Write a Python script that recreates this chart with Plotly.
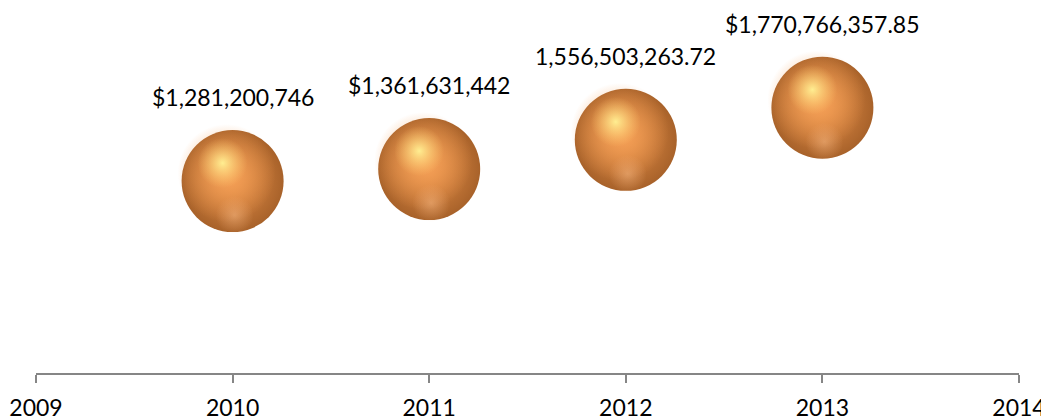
import plotly.graph_objects as go

years = [2010, 2011, 2012, 2013]
revenue = [1281200746, 1361631442, 1556503263.72, 1770766357.85]
labels = ["$1,281,200,746", "$1,361,631,442", "1,556,503,263.72", "$1,770,766,357.85"]
tick_years = [2009, 2010, 2011, 2012, 2013, 2014]

FONT = "Lato, 'Open Sans', sans-serif"

# pixel -> data conversion for the shading layers of the spheres
X_PER_PX = 5 / 983
Y_PER_PX = 2.49e9 / 373


def shifted(dx, dy):
    return ([x + dx * X_PER_PX for x in years], [v - dy * Y_PER_PX for v in revenue])


fig = go.Figure()


def layer(dx, dy, size, edge, centre):
    xs, ys = shifted(dx, dy)
    fig.add_trace(go.Scatter(
        x=xs, y=ys, mode="markers", hoverinfo="skip",
        marker=dict(size=size, color=edge, line=dict(width=0),
                    gradient=dict(type="radial", color=centre)),
    ))


# sphere body (gradient.color is the centre colour)
layer(0, 0, 102, "#A8622A", "#E8914A")
layer(-6, -8, 98, "rgba(244,158,84,0)", "rgba(246,162,88,1)")
# lower reflection
layer(2, 34, 38, "rgba(248,180,125,0)", "rgba(250,188,135,0.5)")
# specular highlight
layer(-10, -18, 50, "rgba(252,200,110,0)", "rgba(255,238,145,1)")

for x, v, t in zip(years, revenue, labels):
    fig.add_annotation(x=x, y=v, text=t, showarrow=False, yshift=84,
                       font=dict(family=FONT, size=23, color="#000000"))

fig.update_layout(
    width=1041, height=412,
    margin=dict(l=28, r=30, t=0, b=47),
    paper_bgcolor="white", plot_bgcolor="white",
    showlegend=False,
    xaxis=dict(range=[2009, 2014], tickvals=tick_years, ticktext=[str(y) for y in tick_years],
               showgrid=False, zeroline=False, showline=True, linecolor="#868686", linewidth=1.5,
               ticks="outside", ticklen=8, tickcolor="#868686", tickwidth=1.5,
               ticklabelstandoff=6,
               tickfont=dict(family=FONT, size=23, color="#000000")),
    yaxis=dict(range=[0, 2.49e9 * 365 / 373], visible=False, showgrid=False, zeroline=False),
)

fig.write_html("out.html")
